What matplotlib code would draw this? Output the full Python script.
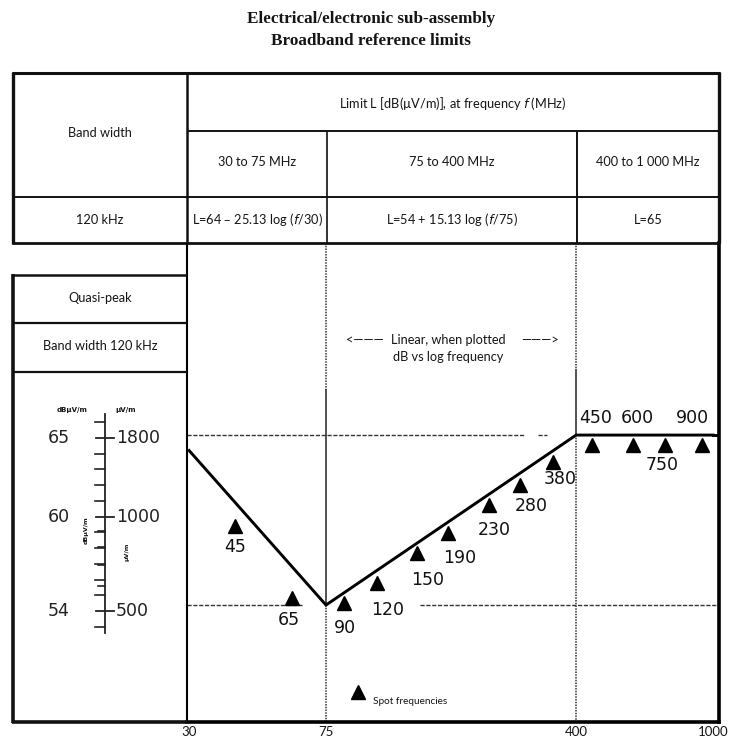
import math
import matplotlib
matplotlib.use("Agg")
import matplotlib.pyplot as plt
from matplotlib.transforms import blended_transform_factory

# ---------------- data ----------------
limit_freq_mhz = [30, 75, 400, 1000]
limit_level_db = [64, 54, 65, 65]

spot_labels = ["45", "65", "90", "120", "150", "190", "230", "280", "380",
               "450", "600", "750", "900"]
spot_marker_mhz = [40.8, 59.7, 84.6, 105.5, 137.9, 169.8, 223.3, 274.9, 342.8,
                   445, 585.5, 725.4, 929.2]
spot_marker_db = [59.11, 54.45, 54.13, 55.42, 57.36, 58.66, 60.47, 61.76, 63.25,
                  64.35, 64.35, 64.35, 64.35]

x_ticks = [30, 75, 400, 1000]
x_tick_labels = ["30", "75", "400", "1000"]

ruler_major_db = [65, 60, 54]
ruler_major_db_labels = ["65", "60", "54"]
ruler_major_uv_labels = ["1800", "1000", "500"]
ruler_minor_db = [53, 55, 56, 57, 58, 59, 61, 62, 63, 64, 66]
ruler_minor_uv = [600, 700, 800, 900]

band_titles = ["30 to 75 MHz", "75 to 400 MHz", "400 to 1 000 MHz"]
band_formulas = ["L=64 \u2013 25.13 log ($f$/30)", "L=54 + 15.13 log ($f$/75)", "L=65"]

# ---------------- layout ----------------
W, H = 739, 741
fig = plt.figure(figsize=(W / 100, H / 100), dpi=100)
fig.patch.set_facecolor("white")

def fx(px):
    return px / W

def fy(py):
    return 1 - py / H

TXT = "#151515"
table_font = ["Lato", "DejaVu Sans"]
num_font = ["DejaVu Sans"]

# main plot axes
ax_l, ax_r, ax_t, ax_b = 187, 719, 243, 722
ax = fig.add_axes([fx(ax_l), fy(ax_b), fx(ax_r - ax_l), (ax_b - ax_t) / H])
ax.set_xscale("log")
ax.set_xlim(29.58, 1041)
ax.set_ylim(46.43, 77.43)
ax.set_facecolor("none")
ax.minorticks_off()
ax.set_xticks(x_ticks)
ax.set_xticklabels(x_tick_labels, fontfamily=table_font, fontsize=9.5, color=TXT)
ax.tick_params(axis="x", length=0, pad=3)
ax.set_yticks([])
ax.spines["top"].set_visible(False)
ax.spines["left"].set_linewidth(1.5)
ax.spines["bottom"].set_linewidth(2.6)
ax.spines["right"].set_linewidth(2.6)

xmin, xmax = ax.get_xlim()
ymin, ymax = ax.get_ylim()

# reference dashed horizontals
dash_kw = dict(color="#333333", lw=1.0, linestyle=(0, (3, 1.2)))
ax.plot([xmin, 284], [65, 65], **dash_kw)
ax.plot([310, 329], [65, 65], **dash_kw)
ax.plot([xmin, 63.9], [54, 54], **dash_kw)
ax.plot([140.7, xmax], [54, 54], **dash_kw)

# vertical band boundaries
dot_kw = dict(color="#333333", lw=1.1, linestyle=(0, (1, 0.8)))
ax.plot([75, 75], [ymax, 67.9], **dot_kw)
ax.plot([75, 75], [67.9, 54], color="#222222", lw=1.1)
ax.plot([75, 75], [54, ymin], **dot_kw)
ax.plot([400, 400], [ymax, 69.2], **dot_kw)
ax.plot([400, 400], [69.2, 65], color="#222222", lw=1.1)
ax.plot([400, 400], [65, ymin], **dot_kw)

# limit curve
ax.plot(limit_freq_mhz, limit_level_db, color="black", lw=2.1, solid_joinstyle="miter")
ax.plot([limit_freq_mhz[-1], xmax], [limit_level_db[-1]] * 2, color="black", lw=2.1)

# spot frequencies
ax.plot(spot_marker_mhz, spot_marker_db, linestyle="none", marker="^",
        color="black", markersize=10)
label_offsets = [(0, -21), (-3, -22), (1, -25), (11, -27), (11, -27), (12, -25),
                 (5, -25), (11, -21), (7, -17), (4, 27), (4, 27), (-3, -20), (-10, 27)]
for f, l, lab, off in zip(spot_marker_mhz, spot_marker_db, spot_labels, label_offsets):
    ax.annotate(lab, (f, l), xytext=off, textcoords="offset pixels",
                ha="center", va="center", fontsize=12.5, fontfamily=num_font,
                color="#111111")

# ---------------- ruler (left panel) ----------------
rl, rr = 13, 187
rax = fig.add_axes([fx(rl), fy(ax_b), fx(rr - rl), (ax_b - ax_t) / H])
rax.set_xlim(0, 1)
rax.set_ylim(46.94, 77.4)
rax.axis("off")
rax.set_facecolor("none")
tr = blended_transform_factory(rax.transAxes, rax.transData)
px = 1 / (rr - rl)
x0 = (105 - rl) * px
rax.plot([x0, x0], [52.6, 66.5], color="#222222", lw=1.3, transform=tr)
for d in ruler_minor_db:
    rax.plot([x0 - 10 * px, x0], [d, d], color="#222222", lw=1.2, transform=tr)
for u in ruler_minor_uv:
    d = 20 * math.log10(u)
    rax.plot([x0 - 7 * px, x0], [d, d], color="#222222", lw=1.2, transform=tr)
for d, ld, lu in zip(ruler_major_db, ruler_major_db_labels, ruler_major_uv_labels):
    rax.plot([x0 - 9 * px, x0 + 9 * px], [d, d], color="#222222", lw=1.3, transform=tr)
    rax.text((70 - rl) * px, d, ld, ha="right", va="center", fontsize=12.5,
             fontfamily=num_font, color="#222222", transform=tr)
    rax.text((116 - rl) * px, d, lu, ha="left", va="center", fontsize=12.5,
             fontfamily=num_font, color="#222222", transform=tr)

# ---------------- overlay frame / table ----------------
ov = fig.add_axes([0, 0, 1, 1], zorder=10)
ov.set_xlim(0, W)
ov.set_ylim(H, 0)
ov.axis("off")
ov.set_facecolor("none")

def line(x1, y1, x2, y2, lw):
    ov.plot([x1, x2], [y1, y2], color="#111111", lw=lw, solid_capstyle="butt")

# upper table
line(12, 73, 720, 73, 2.2)
line(13, 72, 13, 244, 2.4)
line(719, 72, 719, 243, 2.4)
line(187, 131, 719, 131, 1.4)
line(13, 197, 719, 197, 1.4)
line(12, 243, 720, 243, 2.0)
line(187, 73, 187, 243, 1.8)
line(327, 131, 327, 243, 1.2)
line(577, 131, 577, 243, 1.4)

# left panel
line(12, 275, 187, 275, 1.8)
line(13, 323, 187, 323, 1.6)
line(13, 372, 187, 372, 1.6)
line(13, 274, 13, 723, 2.6)
line(12, 722, 187, 722, 2.6)

# titles
serif = ["Liberation Serif", "DejaVu Serif"]
ov.text(371, 19, "Electrical/electronic sub-assembly", ha="center", va="center",
        fontsize=12.3, fontweight="bold", fontfamily=serif, color=TXT)
ov.text(371, 41, "Broadband reference limits", ha="center", va="center",
        fontsize=12.3, fontweight="bold", fontfamily=serif, color=TXT)

tkw = dict(ha="center", va="center", fontsize=9.2, fontfamily=table_font, color=TXT)
ov.text(100, 133, "Band width", **tkw)
ov.text(100, 220, "120 kHz", **tkw)
ov.text(453, 103, "Limit L [dB(\u00b5V/m)], at frequency $f$ (MHz)", **tkw)
for cx, t, fml in zip([257, 452, 648], band_titles, band_formulas):
    ov.text(cx, 162, t, **tkw)
    ov.text(cx, 220, fml, **tkw)
ov.text(100, 298, "Quasi-peak", **tkw)
ov.text(100, 346, "Band width 120 kHz", **tkw)
ov.text(448, 340, "Linear, when plotted", **tkw)
ov.text(448, 357, "dB vs log frequency", **tkw)
ov.text(346, 340, "<\u2014\u2014\u2014", ha="left", va="center", fontsize=9.2,
        fontfamily=table_font, color=TXT)
ov.text(559, 340, "\u2014\u2014\u2014>", ha="right", va="center", fontsize=9.2,
        fontfamily=table_font, color=TXT)

# ruler headers
ov.text(72, 410, "dB\u00b5V/m", ha="center", va="center", fontsize=5,
        fontweight="bold", fontfamily=num_font, color=TXT)
ov.text(126, 410, "\u00b5V/m", ha="center", va="center", fontsize=5,
        fontweight="bold", fontfamily=num_font, color=TXT)
ov.text(86, 530, "dB\u00b5V/m", ha="center", va="center", fontsize=4.5,
        rotation=90, fontweight="bold", fontfamily=num_font, color=TXT)
ov.text(127, 552, "\u00b5V/m", ha="center", va="center", fontsize=4.5,
        rotation=90, fontweight="bold", fontfamily=num_font, color=TXT)

# legend
ov.plot([358], [692], marker="^", color="black", markersize=10, linestyle="none")
ov.text(373, 701, "Spot frequencies", ha="left", va="center", fontsize=7.2,
        fontfamily=table_font, color=TXT)

fig.savefig("out.png", dpi=100, facecolor="white")
